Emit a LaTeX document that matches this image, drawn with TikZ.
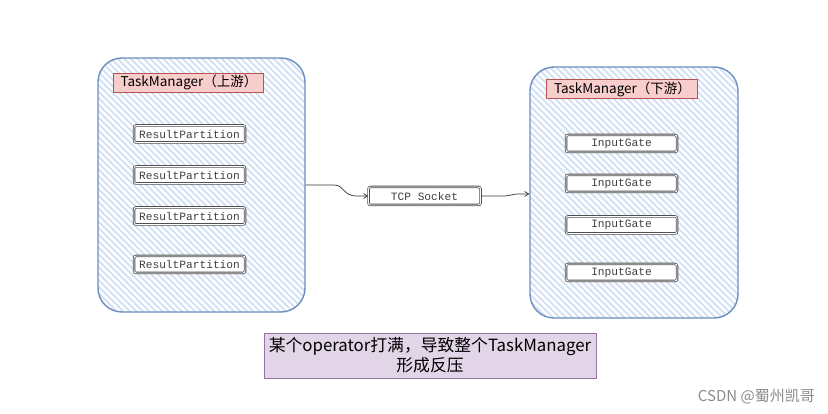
\documentclass[tikz,border=0pt]{standalone}
\usepackage{fontspec}
\setmainfont{Liberation Sans}
\setmonofont{Liberation Mono}
\newfontfamily\cjk{Noto Sans CJK SC}
\usetikzlibrary{arrows.meta}
\definecolor{tmblue}{RGB}{108,142,191}
\definecolor{stripeblue}{RGB}{212,226,245}
\definecolor{lblfill}{RGB}{248,206,204}
\definecolor{lbldraw}{RGB}{184,84,80}
\definecolor{notefill}{RGB}{225,213,231}
\definecolor{notedraw}{RGB}{150,115,166}
\definecolor{boxdraw}{RGB}{80,80,80}
\tikzset{
  tmbox/.style={draw=tmblue, line width=1.4pt, rounded corners=24pt, inner sep=0pt,
    fill=white,
    path picture={
      \foreach \k in {-420,-413.5,...,260}
        \draw[stripeblue, line width=2.1pt]
          ([xshift=\k pt, yshift=4pt]path picture bounding box.north) -- ++(330pt,-330pt);
    }},
  tmlabel/.style={draw=lbldraw, fill=lblfill, line width=0.5pt, inner sep=0pt,
    minimum height=19pt, font=\cjk\fontsize{13.5}{15}\selectfont, anchor=west},
  part/.style={draw=boxdraw, double=white, double distance=0.9pt, line width=0.8pt,
    fill=white, rounded corners=2pt, minimum width=111pt, minimum height=17pt, inner sep=0pt,
    font=\ttfamily\fontsize{11.2}{12}\selectfont, text=black!75},
  conn/.style={draw=black!80, line width=0.7pt, -{Straight Barb[length=4pt,width=5pt]}},
}
\begin{document}
\begin{tikzpicture}[x=1pt,y=-1pt]
\useasboundingbox (0,0) rectangle (828,414);
\fill[white] (0,0) rectangle (828,414);

% big boxes
\node[tmbox, minimum width=207pt, minimum height=254pt] (L) at (201.5,185) {};
\node[tmbox, minimum width=208pt, minimum height=251pt] (R) at (634,192.5) {};

% labels
\node[tmlabel, minimum width=150pt] (Llbl) at (113,82.5) {\hspace*{1.5pt}TaskManager（上游）\hfill};
\node[tmlabel, minimum width=151pt] (Rlbl) at (546,89) {\hspace*{1.5pt}TaskManager（下游）\hfill};

% result partitions
\node[part] (rp1) at (189.5,134) {ResultPartition};
\node[part] (rp2) at (189.5,175) {ResultPartition};
\node[part] (rp3) at (189.5,216) {ResultPartition};
\node[part] (rp4) at (189.5,264.5) {ResultPartition};

% input gates
\node[part] (ig1) at (621.5,143.5) {InputGate};
\node[part] (ig2) at (621.5,183.5) {InputGate};
\node[part] (ig3) at (621.5,225) {InputGate};
\node[part] (ig4) at (621.5,272.5) {InputGate};

% tcp
\node[part, minimum width=112pt, minimum height=18pt] (tcp) at (424.5,196) {TCP Socket};

% connectors
\coordinate (lout) at (L.east |- 0,185);
\coordinate (rin) at (R.west |- 0,194);
\draw[conn] (lout) -- (334,185) .. controls (345,185) and (342,196) .. (357,196) -- (tcp.west);
\draw[conn] (tcp.east) -- (502,196) .. controls (512,196) and (510,194) .. (520,194) -- (rin);

% note
\node[draw=notedraw, fill=notefill, line width=0.5pt, minimum width=332pt, minimum height=45pt,
  inner sep=0pt, align=center, font=\cjk\fontsize{16.8}{20}\selectfont] (note) at (430,355.5)
  {某个operator打满，导致整个TaskManager\\形成反压};

% watermark
\node[anchor=east, text=black!45, font=\cjk\fontsize{15}{17}\selectfont, inner sep=0pt] (wm)
  at (815,397) {CSDN @蜀州凯哥};
\end{tikzpicture}
\end{document}
